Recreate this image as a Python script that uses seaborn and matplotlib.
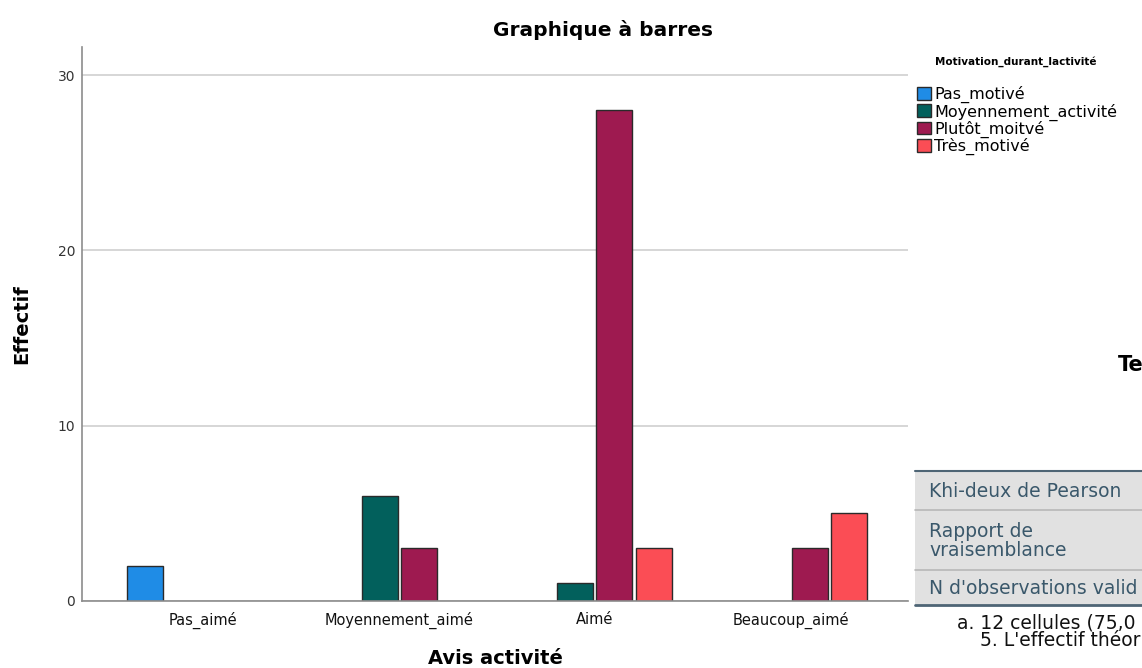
import matplotlib
matplotlib.use("Agg")
import matplotlib.pyplot as plt
from matplotlib.patches import Rectangle
import seaborn as sns
import pandas as pd

sns.set_theme(style="white")
plt.rcParams['font.family'] = ['DejaVu Sans']
plt.rcParams['text.color'] = 'black'
plt.rcParams['axes.labelcolor'] = 'black'

# data (zero cells are not drawn)
avis = ['Pas_aimé', 'Moyennement_aimé', 'Aimé', 'Beaucoup_aimé']
motivation = ['Pas_motivé', 'Moyennement_activité', 'Plutôt_moitvé', 'Très_motivé']
avis_col = ['Pas_aimé', 'Moyennement_aimé', 'Moyennement_aimé', 'Aimé', 'Aimé', 'Aimé',
            'Beaucoup_aimé', 'Beaucoup_aimé']
motiv_col = ['Pas_motivé', 'Moyennement_activité', 'Plutôt_moitvé', 'Moyennement_activité',
             'Plutôt_moitvé', 'Très_motivé', 'Plutôt_moitvé', 'Très_motivé']
effectif = [2, 6, 3, 1, 28, 3, 3, 5]
couleurs = ['#1F8CE6', '#02605C', '#9E1A50', '#FB4D55']

# visible (cut-off) part of the SPSS table next to the chart
table_title = 'Te'
table_rows = ['Khi-deux de Pearson', 'Rapport de\nvraisemblance', "N d'observations valid"]
notes = ['a. 12 cellules (75,0', "5. L'effectif théor"]

df = pd.DataFrame({'Avis': avis_col, 'Motivation': motiv_col, 'Effectif': effectif})

W, H = 1142, 668
fig = plt.figure(figsize=(W / 100, H / 100), dpi=100)
ax = fig.add_axes([82 / W, 1 - 601 / H, (908 - 82) / W, (601 - 47) / H])

sns.barplot(data=df, x='Avis', y='Effectif', hue='Motivation', order=avis,
            hue_order=motivation, palette=couleurs, saturation=1, width=0.8, gap=0.08,
            edgecolor='#2A2A2A', linewidth=1.0, legend=False, ax=ax)

ax.set_xlim(-0.62, 3.6)
ax.set_ylim(0, 31.6)
ax.set_yticks([0, 10, 20, 30])
ax.yaxis.grid(True, color='#D0D0D0', linewidth=1.2)
ax.set_axisbelow(True)
for s in ['top', 'right']:
    ax.spines[s].set_visible(False)
for s in ['left', 'bottom']:
    ax.spines[s].set_color('#8C8C8C')
    ax.spines[s].set_linewidth(1.2)
ax.tick_params(axis='y', length=0, pad=5, labelsize=10, labelcolor='#333333')
ax.tick_params(axis='x', length=0, pad=8, labelsize=10.5, labelcolor='#111111')
ax.set_xlabel('Avis activité', fontsize=14, fontweight='bold', labelpad=14)
ax.set_ylabel('Effectif', fontsize=14, fontweight='bold', labelpad=19)

fig.text(603 / W, 1 - 30 / H, 'Graphique à barres', ha='center', va='center',
         fontsize=14.5, fontweight='bold')

# legend
fig.text(935 / W, 1 - 62 / H, 'Motivation_durant_lactivité', ha='left', va='center',
         fontsize=7.5, fontweight='bold')
handles = [Rectangle((0, 0), 1, 1, facecolor=c, edgecolor='#2A2A2A', linewidth=1.0)
           for c in couleurs]
leg = fig.legend(handles, motivation, loc='upper left',
                 bbox_to_anchor=(906 / W, 1 - 75 / H), frameon=False,
                 fontsize=11.5, handlelength=0.85, handleheight=0.85,
                 handletextpad=0.2, labelspacing=0.0, borderpad=0.2)

# overlay in pixel coordinates for the cut-off SPSS table
ov = fig.add_axes([0, 0, 1, 1])
ov.set_xlim(0, W)
ov.set_ylim(H, 0)
ov.axis('off')
ov.patch.set_alpha(0)

ov.text(1118, 365, table_title, fontsize=15, fontweight='bold', va='center', ha='left')

row_tops = [471, 510, 570]
row_bots = [510, 570, 605]
for top, bot, lab in zip(row_tops, row_bots, table_rows):
    ov.add_patch(Rectangle((915, top), 300, bot - top, facecolor='#E1E1E1',
                           edgecolor='none'))
    ov.text(929, (top + bot) / 2 + 1, lab, fontsize=13.5, color='#3A586B',
            va='center', ha='left', linespacing=0.95)
for y in row_tops[1:]:
    ov.plot([915, W], [y, y], color='#B8B8B8', linewidth=1.2)
ov.plot([915, W], [471, 471], color='#4E6575', linewidth=1.5)
ov.plot([915, W], [605, 605], color='#4E6575', linewidth=2.0)

ov.text(957, 623, notes[0], fontsize=13.5, color='#111111', va='center', ha='left')
ov.text(980, 641, notes[1], fontsize=13.5, color='#111111', va='center', ha='left')

fig.savefig('out.png', dpi=100)
